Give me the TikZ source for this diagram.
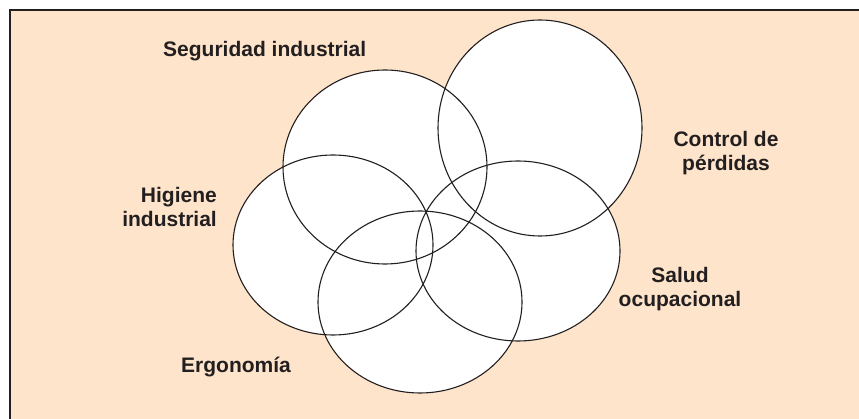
\documentclass[tikz,border=0pt]{standalone}
\usepackage{fontspec}
\setmainfont{Liberation Sans}
\usetikzlibrary{shapes.geometric}
\definecolor{peach}{RGB}{253,228,202}
\definecolor{ink}{RGB}{35,31,32}
\begin{document}
\begin{tikzpicture}[x=1pt,y=-1pt,
  setfill/.style={ellipse, fill=white, inner sep=0pt, outer sep=0pt},
  setline/.style={ellipse, draw=ink, line width=1.1pt, inner sep=0pt, outer sep=0pt},
  lbl/.style={font=\fontsize{21}{24}\selectfont\bfseries, text=ink, inner sep=0pt}]
\useasboundingbox (0,0) rectangle (859,419);
\fill[white] (0,0) rectangle (859,419);
\fill[peach] (10,10) rectangle (870,430);
\draw[ink, line width=1.6pt] (870,10) -- (10,10) -- (10,430);
% fills
\node[setfill, minimum width=204pt, minimum height=194pt] (seg) at (385,167) {};
\node[setfill, minimum width=204pt, minimum height=216pt] (con) at (540,128) {};
\node[setfill, minimum width=200pt, minimum height=180pt] (hig) at (333,245) {};
\node[setfill, minimum width=204pt, minimum height=180pt] (sal) at (518,251) {};
\node[setfill, minimum width=204pt, minimum height=182pt] (erg) at (420,302) {};
% outlines
\node[setline, minimum width=204pt, minimum height=194pt] at (seg) {};
\node[setline, minimum width=204pt, minimum height=216pt] at (con) {};
\node[setline, minimum width=200pt, minimum height=180pt] at (hig) {};
\node[setline, minimum width=204pt, minimum height=180pt] at (sal) {};
\node[setline, minimum width=204pt, minimum height=182pt] at (erg) {};
% labels
\node[lbl, anchor=base west] (tseg) at (163,57) {Seguridad industrial};
\node[lbl, anchor=base, align=center] (tcon1) at (726,147) {Control de};
\node[lbl, anchor=base, align=center] (tcon2) at (726,171) {pérdidas};
\node[lbl, anchor=base east] (thig1) at (217,203) {Higiene};
\node[lbl, anchor=base east] (thig2) at (217,227) {industrial};
\node[lbl, anchor=base] (tsal1) at (680,283) {Salud};
\node[lbl, anchor=base] (tsal2) at (680,307) {ocupacional};
\node[lbl, anchor=base] (terg) at (236,373) {Ergonomía};
\end{tikzpicture}
\end{document}
